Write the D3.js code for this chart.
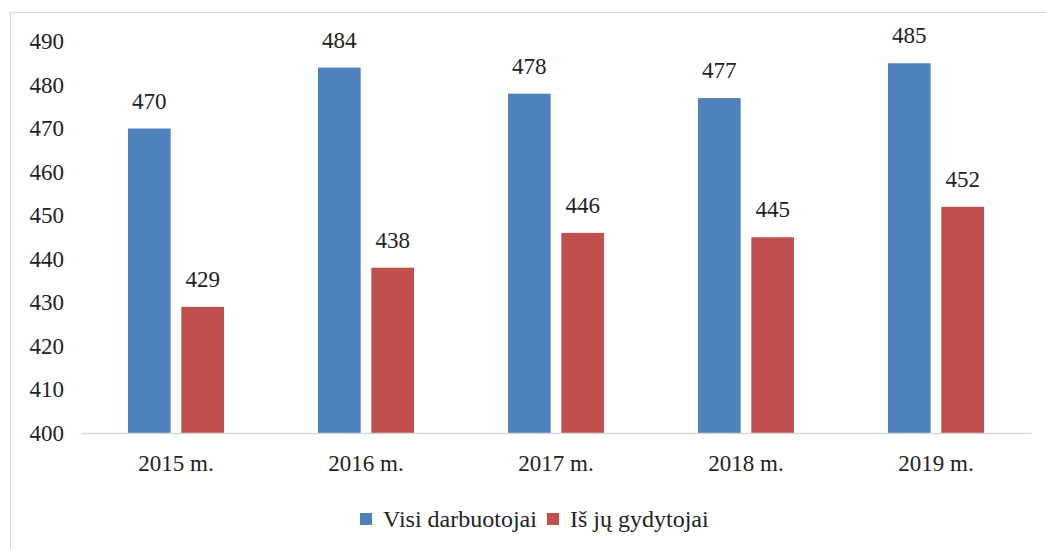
<!DOCTYPE html>
<html>
<head>
<meta charset="utf-8">
<script src="https://cdn.jsdelivr.net/npm/d3@7"></script>
<style>
  body { margin: 0; background: #fff; }
  svg { display: block; }
  svg text { font-family: "Liberation Serif", "Times New Roman", serif; }
</style>
</head>
<body>
<div id="chart"></div>
<script>
// chart data
const years = ["2015 m.", "2016 m.", "2017 m.", "2018 m.", "2019 m."];
const seriesNames = ["Visi darbuotojai", "Iš jų gydytojai"];
const allStaff = [470, 484, 478, 477, 485];
const doctors = [429, 438, 446, 445, 452];
const yTicks = [400, 410, 420, 430, 440, 450, 460, 470, 480, 490];
const colors = ["#4f81bd", "#c0504d"];

function drawChart() {
    const width = 1046, height = 549;

    const svg = d3.select("#chart")
        .append("svg")
        .attr("width", width)
        .attr("height", height);

    // outer frame
    svg.append("rect")
        .attr("x", 10.5).attr("y", 12.5)
        .attr("width", 1100).attr("height", 600)
        .attr("fill", "none")
        .attr("stroke", "#d9d9d9");

    const x = d3.scaleBand()
        .domain(years)
        .range([81, 1031]);

    const xInner = d3.scaleBand()
        .domain([0, 1])
        .range([-48, 48])
        .paddingInner(0.2);

    const y = d3.scaleLinear()
        .domain([400, 490])
        .range([433, 41.5]);

    // y axis labels (no line)
    const yAxis = svg.append("g")
        .attr("transform", "translate(64,0)")
        .call(d3.axisLeft(y).tickValues(yTicks).tickSize(0).tickPadding(0));
    yAxis.attr("font-family", null);
    yAxis.select(".domain").remove();
    yAxis.selectAll("text")
        .attr("font-size", 23)
        .attr("fill", "#222");

    // bars
    const rows = years.map((yr, i) => ({ year: yr, values: [allStaff[i], doctors[i]] }));
    const groups = svg.append("g").selectAll("g")
        .data(rows)
        .join("g")
        .attr("transform", d => `translate(${x(d.year) + x.bandwidth() / 2},0)`);

    groups.selectAll("rect")
        .data(d => d.values.map((v, k) => ({ v, k })))
        .join("rect")
        .attr("x", d => xInner(d.k))
        .attr("width", xInner.bandwidth())
        .attr("y", d => y(d.v))
        .attr("height", d => y(400) - y(d.v))
        .attr("fill", d => colors[d.k]);

    groups.selectAll("text.val")
        .data(d => d.values.map((v, k) => ({ v, k })))
        .join("text")
        .attr("class", "val")
        .attr("x", d => xInner(d.k) + xInner.bandwidth() / 2)
        .attr("y", d => y(d.v) - 20)
        .attr("text-anchor", "middle")
        .attr("font-size", 23)
        .attr("fill", "#222")
        .text(d => d.v);

    // x axis
    const xAxis = svg.append("g")
        .attr("transform", "translate(0,433)")
        .call(d3.axisBottom(x).tickSize(0).tickPadding(22));
    xAxis.attr("font-family", null);
    xAxis.select(".domain").attr("stroke", "#d9d9d9").attr("stroke-width", 1.5);
    xAxis.selectAll("text")
        .attr("font-size", 23)
        .attr("fill", "#222");

    // legend
    const legendX = [360, 547];
    const legend = svg.append("g").selectAll("g")
        .data(seriesNames)
        .join("g")
        .attr("transform", (d, i) => `translate(${legendX[i]},513)`);
    legend.append("rect")
        .attr("width", 12).attr("height", 12)
        .attr("fill", (d, i) => colors[i]);
    legend.append("text")
        .attr("x", 23).attr("y", 14)
        .attr("font-size", 24)
        .attr("fill", "#222")
        .text(d => d);
}

drawChart();
</script>
</body>
</html>
